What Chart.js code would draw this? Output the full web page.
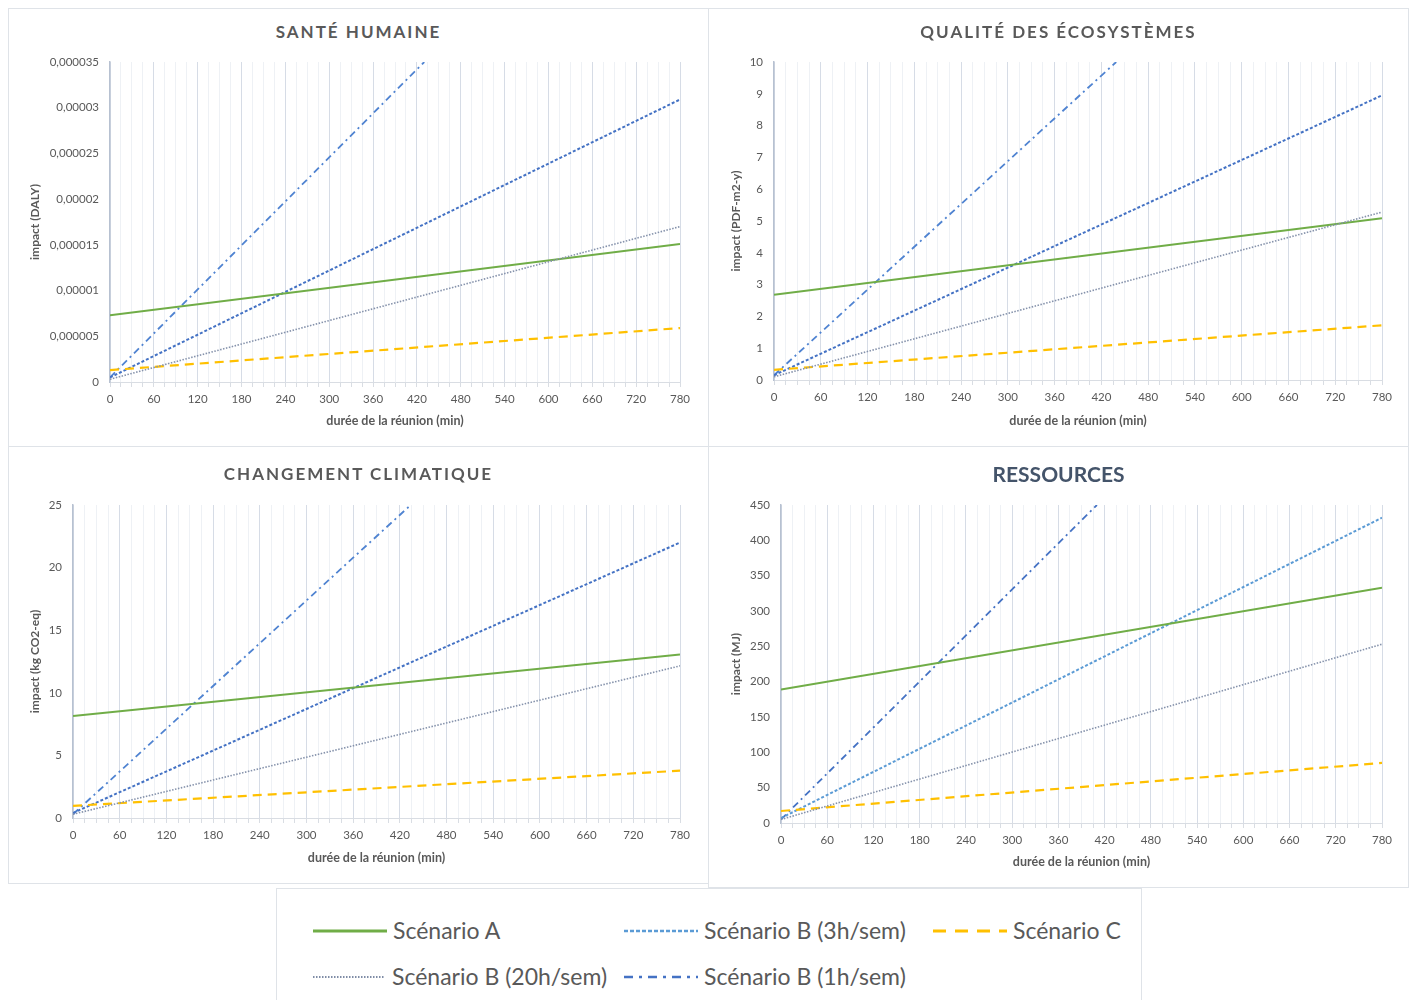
<!DOCTYPE html>
<html lang="fr">
<head>
    <meta charset="UTF-8">
    <title>Impacts selon la durée de la réunion</title>
    <script src="https://cdn.jsdelivr.net/npm/chart.js"></script>
    <style>
        * {
            margin: 0;
            padding: 0;
            box-sizing: border-box;
        }

        body {
            width: 1413px;
            height: 1000px;
            overflow: hidden;
            background: #fff;
            font-family: Lato, "Open Sans", sans-serif;
            position: relative;
        }

        .panel {
            position: absolute;
            border: 1px solid #dfe3e8;
        }

        .panel canvas {
            position: absolute;
            left: -1px;
            top: -1px;
        }

        .titre {
            position: absolute;
            left: 0;
            width: 100%;
            text-align: center;
            font-weight: bold;
            font-size: 17px;
            line-height: 20px;
            letter-spacing: 2px;
            color: #595959;
        }

        .legende {
            position: absolute;
            left: 276px;
            top: 888px;
            width: 866px;
            height: 130px;
            border: 1px solid #dfe3e8;
        }

        .item {
            position: absolute;
            height: 30px;
            line-height: 30px;
            font-size: 23px;
            color: #595959;
            white-space: nowrap;
        }

        .item svg {
            position: absolute;
            left: 0;
            top: 14px;
        }

        .item span {
            position: absolute;
            top: 0;
        }
    </style>
</head>
<body>

    <div class="panel" style="left:8px;top:8px;width:701px;height:439px">
        <div class="titre" style="top:13px">SANTÉ HUMAINE</div>
        <canvas id="c1" width="701" height="439"></canvas>
    </div>
    <div class="panel" style="left:708px;top:8px;width:701px;height:439px">
        <div class="titre" style="top:13px">QUALITÉ DES ÉCOSYSTÈMES</div>
        <canvas id="c2" width="701" height="439"></canvas>
    </div>
    <div class="panel" style="left:8px;top:446px;width:701px;height:438px">
        <div class="titre" style="top:17px">CHANGEMENT CLIMATIQUE</div>
        <canvas id="c3" width="701" height="438"></canvas>
    </div>
    <div class="panel" style="left:708px;top:446px;width:701px;height:442px">
        <div class="titre" style="top:15px;font-size:21px;line-height:24px;letter-spacing:0;color:#44546a">RESSOURCES</div>
        <canvas id="c4" width="701" height="442"></canvas>
    </div>

    <div class="legende">
        <div class="item" style="left:36px;top:26px">
            <svg width="74" height="4"><line x1="0" y1="2" x2="74" y2="2" stroke="#70ad47" stroke-width="3"/></svg>
            <span style="left:80px">Scénario A</span>
        </div>
        <div class="item" style="left:347px;top:26px">
            <svg width="74" height="4"><line x1="0" y1="2" x2="74" y2="2" stroke="#5b9bd5" stroke-width="2.5" stroke-dasharray="4 2"/></svg>
            <span style="left:80px">Scénario B (3h/sem)</span>
        </div>
        <div class="item" style="left:656px;top:26px">
            <svg width="74" height="4"><line x1="0" y1="2" x2="74" y2="2" stroke="#ffc000" stroke-width="3" stroke-dasharray="13 9"/></svg>
            <span style="left:80px">Scénario C</span>
        </div>
        <div class="item" style="left:36px;top:72px">
            <svg width="74" height="4"><line x1="0" y1="2" x2="72" y2="2" stroke="#7f8ca6" stroke-width="2" stroke-dasharray="1.5 1.5"/></svg>
            <span style="left:79px">Scénario B (20h/sem)</span>
        </div>
        <div class="item" style="left:347px;top:72px">
            <svg width="74" height="4"><line x1="0" y1="2" x2="74" y2="2" stroke="#4472c4" stroke-width="2.5" stroke-dasharray="9 6 3 6"/></svg>
            <span style="left:80px">Scénario B (1h/sem)</span>
        </div>
    </div>

    <script>
        // durée de la réunion (min), points de début / fin de chaque droite
        const durees = [0, 780];
        const xTickLabels = [0, 60, 120, 180, 240, 300, 360, 420, 480, 540, 600, 660, 720, 780];

        // santé humaine (DALY)
        const santeA = [0.0000073, 0.0000151];
        const santeB3 = [0.0000005, 0.0000309];
        const santeB20 = [0.0000003, 0.000017];
        const santeC = [0.0000013, 0.0000059];
        const santeB1Durees = [0, 430];   // la droite sort du graphique vers 430 min
        const santeB1 = [0.0000005, 0.000035];
        const santeTicks = ['0', '0,000005', '0,00001', '0,000015', '0,00002', '0,000025', '0,00003', '0,000035'];

        // qualité des écosystèmes (PDF-m2-y)
        const ecoA = [2.68, 5.09];
        const ecoB3 = [0.15, 8.95];
        const ecoB20 = [0.1, 5.28];
        const ecoC = [0.32, 1.72];
        const ecoB1Durees = [0, 439];
        const ecoB1 = [0.15, 10];
        const ecoTicks = ['0', '1', '2', '3', '4', '5', '6', '7', '8', '9', '10'];

        // changement climatique (kg CO2-eq)
        const climA = [8.15, 13.05];
        const climB3 = [0.4, 22.0];
        const climB20 = [0.3, 12.15];
        const climC = [0.97, 3.78];
        const climB1Durees = [0, 434];
        const climB1 = [0.3, 25];
        const climTicks = ['0', '5', '10', '15', '20', '25'];

        // ressources (MJ)
        const resA = [189, 333];
        const resB3 = [7, 432];
        const resB20 = [5, 253];
        const resC = [17, 85];
        const resB1Durees = [0, 410];
        const resB1 = [5, 450];
        const resTicks = ['0', '50', '100', '150', '200', '250', '300', '350', '400', '450'];

        const gris = '#595959';
        const police = 'Lato, "Open Sans", sans-serif';

        function pts(xs, ys) {
            return xs.map((x, i) => ({ x: x, y: ys[i] }));
        }

        function serie(label, xs, ys, color, dash, width) {
            return {
                label: label,
                data: pts(xs, ys),
                borderColor: color,
                borderWidth: width,
                borderDash: dash,
                pointRadius: 0,
                fill: false,
                tension: 0
            };
        }

        function graphique(id, c) {
            const blue3 = c.blue3 || '#4472c4';
            const blue1 = c.blue1 || '#4f83d1';
            return new Chart(document.getElementById(id), {
                type: 'line',
                data: {
                    datasets: [
                        serie('Scénario B (20h/sem)', durees, c.b20, '#8592ab', [1.5, 1.5], 1.6),
                        serie('Scénario C', durees, c.sc, '#ffc000', [9, 6], 2.2),
                        serie('Scénario A', durees, c.a, '#70ad47', [], 2),
                        serie('Scénario B (3h/sem)', durees, c.b3, blue3, [3, 2], 2),
                        serie('Scénario B (1h/sem)', c.b1x, c.b1, blue1, [7, 4, 2, 4], 1.8)
                    ]
                },
                options: {
                    responsive: false,
                    animation: false,
                    layout: { padding: { top: c.top, right: c.right, left: 0, bottom: 0 } },
                    plugins: {
                        legend: { display: false },
                        tooltip: { enabled: false }
                    },
                    scales: {
                        x: {
                            type: 'linear',
                            min: 0,
                            max: 780,
                            afterFit: s => { s.height = c.xh; },
                            ticks: {
                                stepSize: 15,
                                autoSkip: false,
                                maxTicksLimit: 100,
                                maxRotation: 0,
                                padding: 5,
                                color: gris,
                                font: { family: police, size: 11.5 },
                                callback: v => xTickLabels.includes(v) ? String(v) : ''
                            },
                            grid: {
                                color: g => (g.tick && g.tick.value % 60 === 0) ? '#d6dce6' : '#eef1f5',
                                tickColor: '#d9dde3',
                                tickLength: 5,
                                lineWidth: 1
                            },
                            border: { color: '#d9dde3' },
                            title: {
                                display: true,
                                text: 'durée de la réunion (min)',
                                color: gris,
                                font: { family: police, size: 12.5, weight: 'bold' },
                                padding: { top: 4, bottom: 19 }
                            }
                        },
                        y: {
                            min: 0,
                            max: c.max,
                            afterFit: s => { s.width = c.yw; },
                            ticks: {
                                stepSize: c.step,
                                padding: 3,
                                color: gris,
                                font: { family: police, size: 11.5 },
                                callback: (v, i) => c.ticks[i]
                            },
                            grid: { display: false },
                            border: { display: true, color: '#b7c1d1', width: 1.5 },
                            title: {
                                display: true,
                                text: c.ytitle,
                                color: gris,
                                font: { family: police, size: 12, weight: 'bold' },
                                padding: { top: c.ytpad, bottom: 4 }
                            }
                        }
                    }
                }
            });
        }

        graphique('c1', {
            a: santeA, b3: santeB3, b20: santeB20, sc: santeC, b1x: santeB1Durees, b1: santeB1,
            max: 0.000035, step: 0.000005, ticks: santeTicks, ytitle: 'impact (DALY)',
            top: 54, right: 29, yw: 102, xh: 65, ytpad: 20
        });
        graphique('c2', {
            a: ecoA, b3: ecoB3, b20: ecoB20, sc: ecoC, b1x: ecoB1Durees, b1: ecoB1,
            max: 10, step: 1, ticks: ecoTicks, ytitle: 'impact (PDF-m2-y)',
            top: 54, right: 27, yw: 66, xh: 67, ytpad: 21
        });
        graphique('c3', {
            a: climA, b3: climB3, b20: climB20, sc: climC, b1x: climB1Durees, b1: climB1,
            max: 25, step: 5, ticks: climTicks, ytitle: 'impact (kg CO2-eq)',
            top: 59, right: 29, yw: 65, xh: 66, ytpad: 20
        });
        graphique('c4', {
            a: resA, b3: resB3, b20: resB20, sc: resC, b1x: resB1Durees, b1: resB1,
            max: 450, step: 50, ticks: resTicks, ytitle: 'impact (MJ)',
            top: 59, right: 27, yw: 73, xh: 65, ytpad: 21,
            blue3: '#5b9bd5', blue1: '#4472c4'
        });
    </script>

</body>
</html>
